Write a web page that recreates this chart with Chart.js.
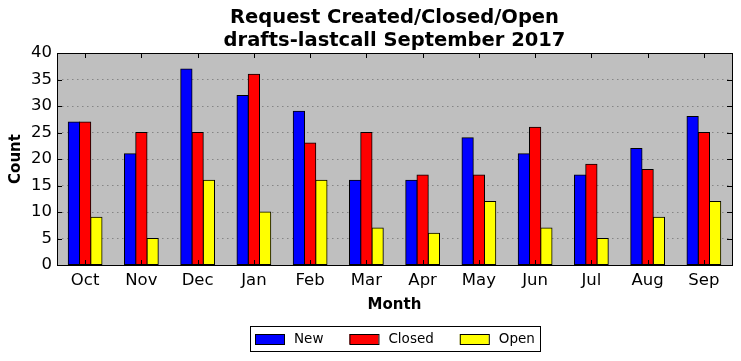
<!DOCTYPE html>
<html>
<head>
<meta charset="utf-8">
<script src="https://cdn.jsdelivr.net/npm/chart.js@4.4.1/dist/chart.umd.min.js"></script>
<style>
  html, body { margin: 0; padding: 0; background: #ffffff; }
  #wrap { width: 741px; height: 361px; position: relative; }
</style>
</head>
<body>
<div id="wrap"><canvas id="chart"></canvas></div>
<script>
const months = ['Oct', 'Nov', 'Dec', 'Jan', 'Feb', 'Mar', 'Apr', 'May', 'Jun', 'Jul', 'Aug', 'Sep'];
const newCounts = [27, 21, 37, 32, 29, 16, 16, 24, 21, 17, 22, 28];
const closedCounts = [27, 25, 25, 36, 23, 25, 17, 17, 26, 19, 18, 25];
const openCounts = [9, 5, 16, 10, 16, 7, 6, 12, 7, 5, 9, 12];
const titleLines = ['Request Created/Closed/Open', 'drafts-lastcall September 2017'];

const FONT = "'DejaVu Sans', sans-serif";

// grey plot background, black frame, inward ticks on all four sides
const framePlugin = {
  id: 'frame',
  beforeDraw(chart) {
    const { ctx, chartArea: a } = chart;
    ctx.save();
    ctx.fillStyle = '#bfbfbf';
    ctx.fillRect(a.left, a.top, a.right - a.left, a.bottom - a.top);
    ctx.restore();
  },
  afterDraw(chart) {
    const { ctx, chartArea: a, scales } = chart;
    const len = 5;
    ctx.save();
    ctx.strokeStyle = '#000';
    ctx.lineWidth = 1;
    ctx.beginPath();
    scales.x.ticks.forEach((_t, i) => {
      const x = Math.round(scales.x.getPixelForTick(i)) + 0.5;
      ctx.moveTo(x, a.top); ctx.lineTo(x, a.top + len);
      ctx.moveTo(x, a.bottom); ctx.lineTo(x, a.bottom - len);
    });
    scales.y.ticks.forEach((_t, i) => {
      const y = Math.round(scales.y.getPixelForTick(i)) + 0.5;
      ctx.moveTo(a.left, y); ctx.lineTo(a.left + len, y);
      ctx.moveTo(a.right, y); ctx.lineTo(a.right - len, y);
    });
    ctx.stroke();
    ctx.strokeRect(Math.round(a.left) + 0.5, Math.round(a.top) + 0.5,
      Math.round(a.right - a.left), Math.round(a.bottom - a.top));

    // title, centred over the plot area
    ctx.fillStyle = '#000';
    ctx.font = `bold 19.5px ${FONT}`;
    ctx.textAlign = 'center';
    ctx.textBaseline = 'middle';
    const cx = (a.left + a.right) / 2;
    ctx.fillText(titleLines[0], cx, 18);
    ctx.fillText(titleLines[1], cx, 41);

    // legend box under the axis
    ctx.font = `13.5px ${FONT}`;
    ctx.textAlign = 'left';
    const patchW = 29, patchH = 10, gapText = 10, gapItem = 26, pad = 5;
    const items = chart.data.datasets.map((d) => ({ label: d.label, color: d.backgroundColor }));
    let total = pad * 2;
    items.forEach((it, i) => {
      total += patchW + gapText + ctx.measureText(it.label).width + (i < items.length - 1 ? gapItem : 0);
    });
    const boxTop = 326, boxH = 25;
    let x = Math.round(cx - total / 2);
    ctx.strokeRect(x + 0.5, boxTop + 0.5, Math.round(total), boxH);
    x += pad;
    const midY = boxTop + boxH / 2 + 0.5;
    items.forEach((it) => {
      ctx.fillStyle = it.color;
      ctx.fillRect(x, midY - patchH / 2, patchW, patchH);
      ctx.strokeRect(x + 0.5, midY - patchH / 2 + 0.5, patchW, patchH);
      ctx.fillStyle = '#000';
      ctx.fillText(it.label, x + patchW + gapText, midY);
      x += patchW + gapText + ctx.measureText(it.label).width + gapItem;
    });
    ctx.restore();
  },
};

function barSet(label, data, color) {
  return {
    label,
    data,
    backgroundColor: color,
    borderColor: '#000000',
    borderWidth: 1,
    borderSkipped: false,
    inflateAmount: 0.5,
    categoryPercentage: 0.6,
    barPercentage: 1.0,
  };
}

new Chart(document.getElementById('chart').getContext('2d'), {
  type: 'bar',
  data: {
    labels: months,
    datasets: [
      barSet('New', newCounts, '#0000ff'),
      barSet('Closed', closedCounts, '#ff0000'),
      barSet('Open', openCounts, '#ffff00'),
    ],
  },
  plugins: [framePlugin],
  options: {
    responsive: true,
    maintainAspectRatio: false,
    animation: false,
    layout: { padding: { left: 0, right: 9, top: 53, bottom: 46 } },
    plugins: {
      legend: { display: false },
      title: { display: false },
      tooltip: { enabled: false },
    },
    scales: {
      x: {
        grid: { display: false, drawTicks: false },
        border: { display: false },
        ticks: { color: '#000', font: { family: FONT, size: 16.5 }, padding: 6, maxRotation: 0 },
        title: {
          display: true,
          text: 'Month',
          color: '#000',
          font: { family: FONT, size: 15, weight: 'bold' },
          padding: { top: 0, bottom: 1 },
        },
        afterFit(scale) { scale.height = 50; },
      },
      y: {
        min: 0,
        max: 40,
        grid: {
          color: '#858585',
          lineWidth: 1,
          drawTicks: false,
          tickBorderDash: [1.5, 3.5],
        },
        border: { display: false, dash: [1.5, 3.5] },
        ticks: { stepSize: 5, color: '#000', font: { family: FONT, size: 16.5 }, padding: 5 },
        title: {
          display: true,
          text: 'Count',
          color: '#000',
          font: { family: FONT, size: 15, weight: 'bold' },
          padding: { top: 7, bottom: 0 },
        },
        afterFit(scale) { scale.width = 57; },
      },
    },
  },
});
</script>
</body>
</html>
